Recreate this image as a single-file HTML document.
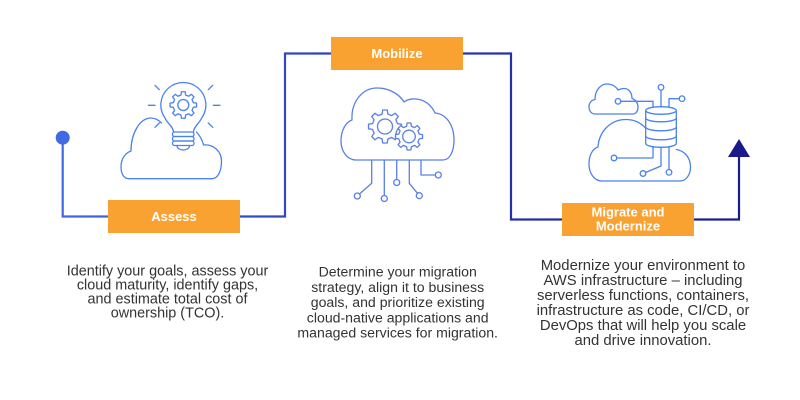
<!DOCTYPE html>
<html><head><meta charset="utf-8"><style>
html,body{margin:0;padding:0;background:#fff;}
svg{display:block;}
</style></head><body>
<svg width="800" height="400" viewBox="0 0 800 400" xmlns="http://www.w3.org/2000/svg">
<defs>
<linearGradient id="lg" gradientUnits="userSpaceOnUse" x1="60" y1="0" x2="750" y2="0">
<stop offset="0" stop-color="#4169e1"/>
<stop offset="0.35" stop-color="#2f45bf"/>
<stop offset="1" stop-color="#1a1a8a"/>
</linearGradient>
<polygon id="gear" points="9.744,-2.25 12.874,-1.809 12.874,1.809 9.744,2.25 8.48,5.299 10.382,7.824 7.824,10.382 5.299,8.48 2.25,9.744 1.809,12.874 -1.809,12.874 -2.25,9.744 -5.299,8.48 -7.824,10.382 -10.382,7.824 -8.48,5.299 -9.744,2.25 -12.874,1.809 -12.874,-1.809 -9.744,-2.25 -8.48,-5.299 -10.382,-7.824 -7.824,-10.382 -5.299,-8.48 -2.25,-9.744 -1.809,-12.874 1.809,-12.874 2.25,-9.744 5.299,-8.48 7.824,-10.382 10.382,-7.824 8.48,-5.299" vector-effect="non-scaling-stroke"/>
</defs>

<!-- connector -->
<path d="M62.7 137.7 V216.5 H285 V53.5 H511 V219.5 H739 V154" fill="none" stroke="url(#lg)" stroke-width="2.2"/>
<circle cx="62.7" cy="137.7" r="7" fill="#4169e1"/>
<polygon points="739,139 728,157 750,157" fill="#1a1a8a"/>

<!-- boxes -->
<rect x="108" y="200" width="132" height="33" fill="#f9a232"/>
<rect x="331" y="37" width="132" height="33" fill="#f9a232"/>
<rect x="562" y="203" width="132" height="33" fill="#f9a232"/>
<g font-family="Liberation Sans, Arial, sans-serif" font-weight="bold" font-size="13" fill="#fff" text-anchor="middle">
<text x="174" y="221">Assess</text>
<text x="397" y="58">Mobilize</text>
<text x="628" y="216.5">Migrate and</text>
<text x="628" y="230.5">Modernize</text>
</g>

<!-- icon 1: lightbulb cloud -->
<g fill="none" stroke="#4a82ee" stroke-width="1.3" stroke-linecap="round" stroke-linejoin="round">
<path d="M212,178.7 H129 C124,178.7 121,174 121,167 C121,159 125,153 131,151 C131,133 140,118 151,118 C155,118 158.5,120 161.5,123"/>
<path d="M196.5,132 C200,136 202.5,140 203.5,145 C213,144 221.5,151 221.5,161 C221.5,171 218,178.7 212,178.7"/>
<path d="M173.5,132 C173.5,127 167,123 165,118 A22.5,22.5 0 1 1 201.7,118 C199.5,123 193.5,127 193.5,132"/>
<rect x="172.5" y="132" width="21.5" height="4.5" rx="2"/>
<rect x="172.5" y="136.5" width="21.5" height="4.5" rx="2"/>
<rect x="172.5" y="141" width="21.5" height="4.5" rx="2"/>
<path d="M177,145.5 C177,148.5 180,150 183.3,150 C186.6,150 189.5,148.5 189.5,145.5"/>
<use href="#gear" transform="translate(183.3,105) scale(1.03)"/>
<circle cx="183.3" cy="105" r="5.5"/>
<path d="M155,85.3 L159.3,89.7 M148.3,105.3 H155 M155,127.3 L159.3,123 M208.3,89.7 L212.7,85.3 M213.3,105.3 H220 M208.3,123 L212.7,127.3"/>
</g>

<!-- icon 2: gears cloud -->
<g fill="none" stroke="#5a7fe6" stroke-width="1.3" stroke-linecap="round" stroke-linejoin="round">
<path d="M443,160 H356 C347,160 341,151 341,141 C341,130 346,122 352,120 C351,101 363,88 377,88 C390,88 400,95 404,102 C412,96 428,98 435,113 C447,114 454,126 454,140 C454,151 450,160 443,160 Z"/>
<use href="#gear" transform="translate(385,126.5) scale(1.28)"/>
<circle cx="385" cy="126.5" r="7.5"/>
<use href="#gear" transform="translate(409,136.5) scale(1.05)" fill="#fff"/>
<circle cx="409" cy="136.5" r="6.3"/>
<path d="M371.7,160 V183.3 L359.5,194"/>
<circle cx="357.3" cy="196" r="3"/>
<path d="M384.3,160 V195.5"/>
<circle cx="384.3" cy="198.5" r="3"/>
<path d="M396.7,160 V179.5"/>
<circle cx="396.7" cy="182.5" r="3"/>
<path d="M409.3,160 V183.3 L417.5,193.3"/>
<circle cx="419.3" cy="195.7" r="3"/>
<path d="M421,160 V175 H435.3"/>
<circle cx="438.3" cy="175" r="3"/>
</g>

<!-- icon 3: database clouds -->
<g fill="none" stroke="#4a82ee" stroke-width="1.3" stroke-linecap="round" stroke-linejoin="round">
<path d="M633,114 H595 C591.5,114 589,111 589,107 C589,103 591.5,100 595,99.5 C595,91 600,84 607,84 C612,84 616,86.5 618,90 C620,89 622,88.5 624,88.5 C629,88.5 632,93 632,98.5 C635.5,99.5 638,103 638,107 C638,111 636,114 633,114 Z"/>
<path d="M645.5,128 C640,122 634,119.5 626,119.5 C610,119.5 599,132 598,147 C592,149 589,156 589,164 C589,173 594,181 602,181 H680 C686,181 690.5,175 690.5,167 C690.5,158 685,151 676.5,149.5"/>
<ellipse cx="661" cy="110.5" rx="15.3" ry="3.8" fill="#fff"/>
<path d="M645.7,110.5 V143.5 A15.3,3.8 0 0 0 676.3,143.5 V110.5"/>
<path d="M645.7,118 A15.3,3.8 0 0 0 676.3,118 M645.7,127 A15.3,3.8 0 0 0 676.3,127 M645.7,136 A15.3,3.8 0 0 0 676.3,136"/>
<path d="M661,106.7 V90.3"/>
<circle cx="661" cy="87.3" r="2.8"/>
<path d="M669,107.2 V98.7 H679.2"/>
<circle cx="682" cy="98.7" r="2.8"/>
<path d="M620.8,101.3 H653 V107.3"/>
<circle cx="618" cy="101.3" r="2.8"/>
<path d="M653,146.7 V158 H616.8"/>
<circle cx="614" cy="158" r="2.8"/>
<path d="M661,147.3 V166 L645.5,172.5"/>
<circle cx="643" cy="173.5" r="2.8"/>
<path d="M669,146.7 V169.5"/>
<circle cx="669" cy="172.3" r="2.8"/>
</g>

<!-- descriptions -->
<g font-family="Liberation Sans, Arial, sans-serif" fill="#333" text-anchor="middle">
<g font-size="14.4">
<text x="167.5" y="275.5">Identify your goals, assess your</text>
<text x="167.5" y="289.5">cloud maturity, identify gaps,</text>
<text x="167.5" y="303.5">and estimate total cost of</text>
<text x="167.5" y="317.5">ownership (TCO).</text>
</g>
<g font-size="14.1">
<text x="397.7" y="276.5">Determine your migration</text>
<text x="397.7" y="291.8">strategy, align it to business</text>
<text x="397.7" y="307">goals, and prioritize existing</text>
<text x="397.7" y="322.3">cloud-native applications and</text>
<text x="397.7" y="337.6">managed services for migration.</text>
</g>
<g font-size="14.85">
<text x="643" y="270">Modernize your environment to</text>
<text x="643" y="285">AWS infrastructure – including</text>
<text x="643" y="300">serverless functions, containers,</text>
<text x="643" y="315">infrastructure as code, CI/CD, or</text>
<text x="643" y="330">DevOps that will help you scale</text>
<text x="643" y="345">and drive innovation.</text>
</g>
</g>
</svg>
</body></html>
